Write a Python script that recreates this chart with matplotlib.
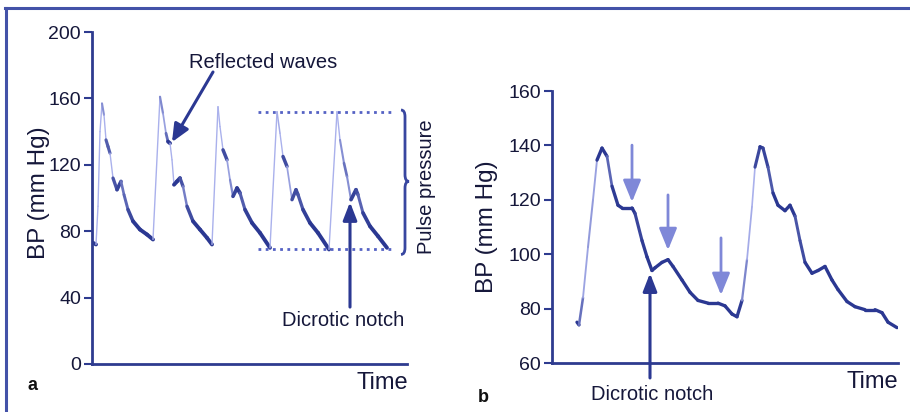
import numpy as np
import matplotlib
matplotlib.use("Agg")
import matplotlib.pyplot as plt
from matplotlib.collections import LineCollection
from matplotlib.lines import Line2D
from matplotlib.path import Path
from matplotlib.patches import PathPatch
from matplotlib.colors import to_rgb

plt.rcParams['font.family'] = ['Liberation Sans', 'DejaVu Sans']

# ---------------- data ----------------
# Panel a: arterial pressure trace (time in arbitrary units, BP in mm Hg)
time_a = [1, 4, 6, 8, 10, 12, 14, 16, 18, 21, 25, 29, 32, 36, 41, 48, 55, 61,
          68, 71, 74, 76, 78, 80, 82, 85, 88, 91, 95, 101, 108, 115, 120,
          126, 128, 131, 135, 138, 141, 145, 148, 153, 160, 168, 178,
          185, 188, 191, 195, 200, 204, 206, 211, 218, 226, 237,
          245, 248, 252, 255, 259, 264, 266, 271, 278, 286, 295]
bp_a = [73, 72, 95, 140, 157, 150, 135, 131, 127, 112, 105, 110, 102, 93, 86, 81, 78, 75,
        161, 151, 139, 134, 133, 123, 108, 110, 112, 107, 95, 86, 81, 76, 72,
        155, 143, 129, 123, 111, 101, 106, 103, 93, 85, 79, 70,
        152, 139, 125, 119, 99, 105, 102, 93, 85, 79, 69,
        152, 135, 121, 113, 99, 105, 102, 91, 83, 77, 70]
pulse_top_a = 152
pulse_bottom_a = 69
yticks_a = [0, 40, 80, 120, 160, 200]

# Panel b: single-beat detail (time in arbitrary units, BP in mm Hg)
time_b = [25, 27, 31, 36, 41, 45, 50, 55, 60, 66, 70, 80, 83, 90, 95, 100, 103,
          110, 116, 121, 130, 138, 146, 156, 166, 173, 180, 185,
          190, 195, 200, 203, 208, 211, 216, 221, 226, 233, 238, 243, 248,
          253, 260, 266, 273, 280, 286, 295, 303, 313, 323, 330, 336, 345]
bp_b = [75, 74, 84, 102.6, 120, 134.6, 139, 136, 125, 118, 117, 117, 115, 105, 99, 94, 95,
        97, 98, 95.5, 90.5, 86, 83, 82, 82, 81, 78, 77,
        83, 98, 117.5, 132, 139.5, 139, 132, 122.5, 118, 116, 118, 114, 105,
        97, 93, 94, 95.5, 90.5, 87, 82.6, 80.7, 79.6, 79.6, 78.5, 75, 73]
yticks_b = [60, 80, 100, 120, 140, 160]
reflect_arrows_b = [(80, 140.1, 119.2), (116, 121.8, 101.5), (169, 106, 85)]

# ---------------- style ----------------
W, H = 910, 412
DARK = '#2b3892'
LIGHT = '#aab1ec'
AXC = '#2e3b8f'
TXT = '#15173a'

fig = plt.figure(figsize=(W / 100, H / 100), dpi=100)
fig.patch.set_facecolor('white')


def fx(x):
    return x / W


def fy(y):
    return 1 - y / H


def trace(ax, t, v, px_per_x, px_per_y, s0, s_rng, lw_dark=2.6, lw_light=1.0):
    t = np.asarray(t, float)
    v = np.asarray(v, float)
    pts = np.column_stack([t, v]).reshape(-1, 1, 2)
    segs = np.concatenate([pts[:-1], pts[1:]], axis=1)
    dx = np.diff(t) * px_per_x
    dy = np.diff(v) * px_per_y
    slope = np.abs(dy) / np.maximum(dx, 1e-6)
    w = np.clip((slope - s0) / s_rng, 0, 1)  # 0 -> dark, 1 -> light
    c0, c1 = np.array(to_rgb(DARK)), np.array(to_rgb(LIGHT))
    cols = [tuple(c0 * (1 - k) + c1 * k) for k in w]
    lws = lw_dark * (1 - w) + lw_light * w
    lc = LineCollection(segs, colors=cols, linewidths=lws, capstyle='round',
                        joinstyle='round')
    ax.add_collection(lc)


def style_axis(ax, ticks, lim_y, lim_x):
    ax.set_xlim(*lim_x)
    ax.set_ylim(*lim_y)
    for s in ['top', 'right']:
        ax.spines[s].set_visible(False)
    for s in ['left', 'bottom']:
        ax.spines[s].set_color(AXC)
        ax.spines[s].set_linewidth(2)
    ax.set_xticks([])
    ax.set_yticks(ticks)
    ax.set_yticklabels([str(v) for v in ticks])
    ax.tick_params(axis='y', direction='out', length=6, width=1.5, color=AXC,
                   labelsize=14, labelcolor=TXT, pad=2)
    ax.set_facecolor('none')


# ---------------- panel a ----------------
axa = fig.add_axes([fx(92), fy(364), 315 / W, 332 / H])
style_axis(axa, yticks_a, (0, 200), (0, 315))
trace(axa, time_a, bp_a, 1.0, 1.66, 1.5, 6.0, lw_dark=2.8, lw_light=1.0)
axa.plot([166, 301], [pulse_top_a, pulse_top_a], ls=(0, (1, 1.6)), color='#5562c4', lw=2)
axa.plot([166, 301], [pulse_bottom_a, pulse_bottom_a], ls=(0, (1, 1.6)), color='#5562c4', lw=2)
axa.set_ylabel('BP (mm Hg)', fontsize=17.5, color=TXT)
axa.yaxis.set_label_coords(-0.133, 0.515)

# brace
verts = [(309, 153), (313, 153), (313, 149),
         (313, 114),
         (313, 110), (317, 110),
         (313, 110), (313, 106),
         (313, 70), (313, 66), (309, 66)]
codes = [Path.MOVETO, Path.CURVE3, Path.CURVE3,
         Path.LINETO,
         Path.CURVE3, Path.CURVE3,
         Path.CURVE3, Path.CURVE3,
         Path.LINETO, Path.CURVE3, Path.CURVE3]
axa.add_patch(PathPatch(Path(verts, codes), fill=False, edgecolor='#3846a0', lw=2,
                        clip_on=False))

axa.annotate('', xy=(80, 133.7), xytext=(121, 175.9),
             arrowprops=dict(arrowstyle='-|>,head_length=0.9,head_width=0.4',
                             color=DARK, lw=2.2, mutation_scale=12,
                             shrinkA=0, shrinkB=0), annotation_clip=False)
axa.annotate('', xy=(258, 97.5), xytext=(258, 34.3),
             arrowprops=dict(arrowstyle='-|>,head_length=0.9,head_width=0.35',
                             color=DARK, lw=2.2, mutation_scale=12,
                             shrinkA=0, shrinkB=0), annotation_clip=False)

fig.text(fx(263), fy(62), 'Reflected waves', fontsize=14.5, color=TXT, ha='center', va='center')
fig.text(fx(343), fy(321), 'Dicrotic notch', fontsize=14.5, color=TXT, ha='center', va='center')
fig.text(fx(426), fy(187), 'Pulse pressure', fontsize=14.5, color=TXT, ha='center', va='center',
         rotation=90)
fig.text(fx(408), fy(383), 'Time', fontsize=17, color=TXT, ha='right', va='center')
fig.text(fx(33), fy(385), 'a', fontsize=13, fontweight='bold', color='#111111',
         ha='center', va='center')

# ---------------- panel b ----------------
axb = fig.add_axes([fx(552), fy(363), 346 / W, 272 / H])
style_axis(axb, yticks_b, (60, 160), (0, 346))
trace(axb, time_b, bp_b, 1.0, 2.72, 3.0, 8.0, lw_dark=2.4, lw_light=1.2)
axb.set_ylabel('BP (mm Hg)', fontsize=17.5, color=TXT)
axb.yaxis.set_label_coords(-0.156, 0.5)

for tx, y0, y1 in reflect_arrows_b:
    axb.annotate('', xy=(tx, y1), xytext=(tx, y0),
                 arrowprops=dict(arrowstyle='-|>,head_length=1.1,head_width=0.45',
                                 color='#7f88d8', lw=2, mutation_scale=12,
                                 shrinkA=0, shrinkB=0), annotation_clip=False)
axb.annotate('', xy=(98, 93), xytext=(98, 54.5),
             arrowprops=dict(arrowstyle='-|>,head_length=0.9,head_width=0.35',
                             color=DARK, lw=2.2, mutation_scale=12,
                             shrinkA=0, shrinkB=0), annotation_clip=False)

fig.text(fx(652), fy(395), 'Dicrotic notch', fontsize=14.5, color=TXT, ha='center', va='center')
fig.text(fx(898), fy(382), 'Time', fontsize=17, color=TXT, ha='right', va='center')
fig.text(fx(483), fy(397), 'b', fontsize=13, fontweight='bold', color='#111111',
         ha='center', va='center')

# ---------------- frame lines ----------------
fig.add_artist(Line2D([fx(5), fx(910)], [fy(8), fy(8)], color='#4352a8', lw=2.2))
fig.add_artist(Line2D([fx(6), fx(6)], [fy(8), fy(412)], color='#4352a8', lw=2.2))

fig.savefig('out.png', dpi=100)
